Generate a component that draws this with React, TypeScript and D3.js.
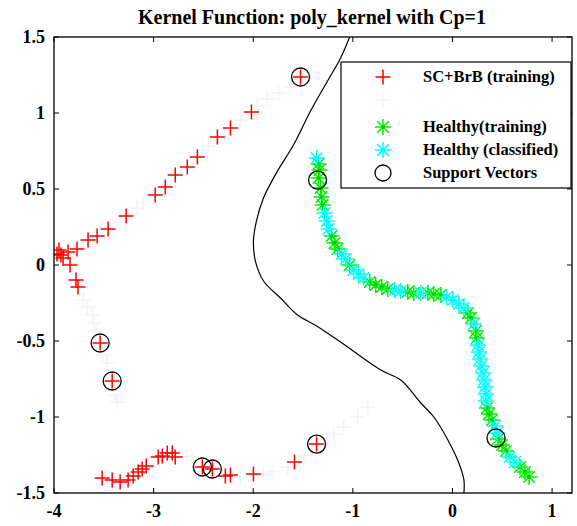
import React from "react";
import * as d3 from "d3";

const W = 577;
const H = 526;
const TITLE = "Kernel Function: poly_kernel with Cp=1";

const xTicks = [-4, -3, -2, -1, 0, 1];
const xTickLabels = ["-4", "-3", "-2", "-1", "0", "1"];
const yTicks = [-1.5, -1, -0.5, 0, 0.5, 1, 1.5];
const yTickLabels = ["-1.5", "-1", "-0.5", "0", "0.5", "1", "1.5"];

const legendLabels = [
  "SC+BrB (training)",
  "",
  "Healthy(training)",
  "Healthy (classified)",
  "Support Vectors",
];

// SC+BrB training points (red +)
const scTraining: [number, number][] = [
  [-1.525, 1.237], [-2.018, 1.007], [-2.229, 0.901], [-2.36, 0.842],
  [-2.561, 0.711], [-2.662, 0.645], [-2.783, 0.592], [-2.883, 0.513],
  [-2.984, 0.461], [-3.276, 0.322], [-3.457, 0.237], [-3.567, 0.191],
  [-3.658, 0.164], [-3.769, 0.105], [-3.859, 0.086], [-3.93, 0.066],
  [-3.97, 0.072], [-3.95, 0.099], [-3.909, 0.046], [-3.839, 0.0],
  [-3.779, -0.099], [-3.759, -0.145],
  [-3.537, -0.513], [-3.416, -0.763],
  [-3.517, -1.401], [-3.416, -1.414], [-3.336, -1.428], [-3.256, -1.414],
  [-3.205, -1.388], [-3.155, -1.362], [-3.115, -1.342], [-3.074, -1.322],
  [-2.954, -1.263], [-2.913, -1.257], [-2.863, -1.237], [-2.813, -1.237],
  [-2.783, -1.263], [-2.511, -1.329], [-2.41, -1.342], [-2.28, -1.388],
  [-2.229, -1.382], [-1.998, -1.375], [-1.586, -1.296], [-1.364, -1.178],
];

// SC+BrB classified points (very light grey +)
const scClassified: [number, number][] = [
  [-1.425, 1.27], [-1.626, 1.171], [-1.746, 1.132], [-1.857, 1.092],
  [-1.958, 1.046], [-2.129, 0.954], [-2.451, 0.783], [-2.511, 0.757],
  [-3.105, 0.408], [-3.165, 0.375], [-3.336, 0.283],
  [-3.708, -0.23], [-3.668, -0.276], [-3.618, -0.329], [-3.598, -0.382],
  [-3.578, -0.434], [-3.507, -0.592], [-3.467, -0.645], [-3.386, -0.855],
  [-3.366, -0.901], [-3.437, -1.48],
  [-2.662, -1.263], [-2.602, -1.283], [-2.129, -1.395], [-1.897, -1.375],
  [-1.797, -1.355], [-1.656, -1.329], [-1.475, -1.25], [-1.193, -1.112],
  [-1.093, -1.066], [-0.952, -1.0], [-0.851, -0.934],
];

// Healthy training points (green *)
const healthyTraining: [number, number][] = [
  [-1.344, 0.664], [-1.334, 0.625], [-1.344, 0.572], [-1.324, 0.507],
  [-1.314, 0.447], [-1.304, 0.395], [-1.213, 0.191], [-1.183, 0.145],
  [-1.153, 0.105], [-1.032, 0.0], [-0.831, -0.112], [-0.771, -0.132],
  [-0.71, -0.145], [-0.65, -0.158], [-0.449, -0.178], [-0.388, -0.184],
  [-0.247, -0.184], [-0.187, -0.191], [-0.117, -0.197], [0.155, -0.316],
  [0.185, -0.349], [0.235, -0.434], [0.245, -0.48], [0.346, -0.941],
  [0.366, -0.98], [0.396, -1.02], [0.457, -1.145], [0.497, -1.184],
  [0.537, -1.224], [0.678, -1.329], [0.728, -1.362], [0.769, -1.395],
];

// Healthy classified points (cyan *)
const healthyClassified: [number, number][] = [
  [-1.364, 0.704], [-1.284, 0.342], [-1.264, 0.289], [-1.243, 0.237],
  [-1.113, 0.072], [-1.072, 0.039], [-0.992, -0.033], [-0.942, -0.059],
  [-0.891, -0.086], [-0.579, -0.164], [-0.519, -0.171], [-0.318, -0.184],
  [-0.056, -0.211], [0.004, -0.23], [0.064, -0.257], [0.115, -0.283],
  [0.215, -0.388], [0.256, -0.526], [0.266, -0.572], [0.276, -0.618],
  [0.286, -0.664], [0.306, -0.711], [0.316, -0.757], [0.326, -0.803],
  [0.336, -0.849], [0.336, -0.895], [0.427, -1.059], [0.447, -1.105],
  [0.577, -1.263], [0.628, -1.296],
];

// Support vectors (black circles)
const supportVectors: [number, number][] = [
  [-1.525, 1.237], [-3.537, -0.513], [-3.416, -0.763], [-2.511, -1.329],
  [-2.41, -1.342], [-1.364, -1.178], [-1.354, 0.559], [0.437, -1.138],
];

// Decision boundary
const boundary: [number, number][] = [
  [-1.032, 1.5], [-1.123, 1.362], [-1.254, 1.211], [-1.425, 1.013],
  [-1.596, 0.789], [-1.757, 0.618], [-1.897, 0.441], [-1.968, 0.289],
  [-1.998, 0.158], [-1.978, 0.026], [-1.897, -0.105], [-1.726, -0.217],
  [-1.555, -0.329], [-1.364, -0.401], [-1.123, -0.507], [-0.72, -0.691],
  [-0.519, -0.757], [-0.318, -0.908], [-0.187, -1.0], [-0.046, -1.151],
  [0.064, -1.303], [0.115, -1.414], [0.115, -1.5],
];

const FONT = "'Liberation Serif', 'Times New Roman', serif";
const GREY = "#f3f3f3";

const plus = (r: number) => `M${-r},0H${r}M0,${-r}V${r}`;
const star = (r: number) => {
  const d = r * 0.72;
  return `M${-r},0H${r}M0,${-r}V${r}M${-d},${-d}L${d},${d}M${-d},${d}L${d},${-d}`;
};

export default function App() {
  const left = 54, right = 572, top = 37, bottom = 493;
  const x = d3.scaleLinear().domain([-4, 1.2]).range([left, right]);
  const y = d3.scaleLinear().domain([-1.5, 1.5]).range([bottom, top]);
  const line = d3.line<[number, number]>().x((d) => x(d[0])).y((d) => y(d[1])).curve(d3.curveCatmullRom);
  const tk = 5;

  const legX = 341, legY = 62, legW = 230, legH = 126;
  const rowY = [77, 100, 127, 150, 173];
  const mX = 383, tX = 423;

  return (
    <svg width={W} height={H} style={{ position: "absolute", left: 0, top: 0, background: "#fff" }}>
      <defs>
        <clipPath id="plotclip">
          <rect x={left} y={top} width={right - left} height={bottom - top} />
        </clipPath>
      </defs>
      <rect x={0} y={0} width={W} height={H} fill="#fff" />
      <text x={312} y={24} textAnchor="middle" fontFamily={FONT} fontWeight="bold" fontSize={20}>
        {TITLE}
      </text>

      <g clipPath="url(#plotclip)">
        {scClassified.map((d, i) => (
          <path key={"g" + i} d={plus(7.5)} transform={`translate(${x(d[0])},${y(d[1])})`} stroke={GREY} strokeWidth={1.5} fill="none" />
        ))}
        {scTraining.map((d, i) => (
          <path key={"r" + i} d={plus(7.5)} transform={`translate(${x(d[0])},${y(d[1])})`} stroke="#ff0000" strokeWidth={1.5} fill="none" />
        ))}
        {healthyTraining.map((d, i) => (
          <g key={"h" + i} transform={`translate(${x(d[0])},${y(d[1])})`}>
            <path d={star(8)} stroke="#00ee00" strokeWidth={1.5} fill="none" />
            <circle r={1.8} fill="#00cc00" />
          </g>
        ))}
        {healthyClassified.map((d, i) => (
          <path key={"c" + i} d={star(8)} transform={`translate(${x(d[0])},${y(d[1])})`} stroke="#00ffff" strokeWidth={1.5} fill="none" />
        ))}
        {supportVectors.map((d, i) => (
          <circle key={"s" + i} cx={x(d[0])} cy={y(d[1])} r={9} stroke="#000" strokeWidth={1.3} fill="none" />
        ))}
        <path d={line(boundary) || ""} stroke="#000" strokeWidth={1.2} fill="none" />
      </g>

      {/* axes box */}
      <rect x={left} y={top} width={right - left} height={bottom - top} fill="none" stroke="#000" strokeWidth={1.3} />
      {xTicks.map((t, i) => (
        <g key={"xt" + i}>
          <line x1={x(t)} x2={x(t)} y1={bottom} y2={bottom - tk} stroke="#000" />
          <line x1={x(t)} x2={x(t)} y1={top} y2={top + tk} stroke="#000" />
          <text x={x(t)} y={517} textAnchor="middle" fontFamily={FONT} fontWeight="bold" fontSize={18}>
            {xTickLabels[i]}
          </text>
        </g>
      ))}
      {yTicks.map((t, i) => (
        <g key={"yt" + i}>
          <line x1={left} x2={left + tk} y1={y(t)} y2={y(t)} stroke="#000" />
          <line x1={right} x2={right - tk} y1={y(t)} y2={y(t)} stroke="#000" />
          <text x={45} y={y(t) + 6} textAnchor="end" fontFamily={FONT} fontWeight="bold" fontSize={18}>
            {yTickLabels[i]}
          </text>
        </g>
      ))}

      {/* legend */}
      <rect x={legX} y={legY} width={legW} height={legH} fill="#fff" stroke="#000" strokeWidth={1.2} />
      <path d={plus(7.5)} transform={`translate(${mX},${rowY[0]})`} stroke="#ff0000" strokeWidth={1.5} fill="none" />
      <path d={plus(7.5)} transform={`translate(${mX},${rowY[1]})`} stroke={GREY} strokeWidth={1.5} fill="none" />
      <g transform={`translate(${mX},${rowY[2]})`}>
        <path d={star(8)} stroke="#00ee00" strokeWidth={1.5} fill="none" />
        <circle r={1.8} fill="#00cc00" />
      </g>
      <path d={star(8)} transform={`translate(${mX},${rowY[3]})`} stroke="#00ffff" strokeWidth={1.5} fill="none" />
      <circle cx={mX} cy={rowY[4]} r={8} stroke="#000" strokeWidth={1.3} fill="none" />
      {legendLabels.map((l, i) => (
        <text key={"l" + i} x={tX} y={rowY[i] + 5} fontFamily={FONT} fontWeight="bold" fontSize={16.5}>
          {l}
        </text>
      ))}
    </svg>
  );
}
